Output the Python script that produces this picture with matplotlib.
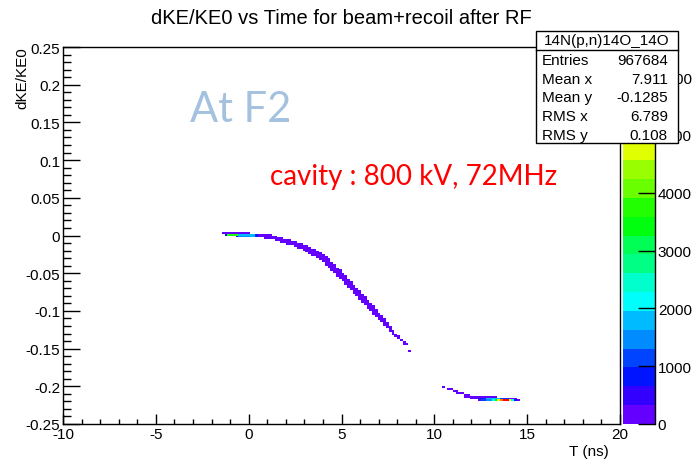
import colorsys
import numpy as np
import matplotlib
matplotlib.use("Agg")
import matplotlib.pyplot as plt
from matplotlib.colors import ListedColormap, BoundaryNorm
from matplotlib.patches import Rectangle

plt.rcParams['font.family'] = ['Liberation Sans', 'DejaVu Sans']
plt.rcParams['axes.unicode_minus'] = False

# TH2 binning: 200 x 200
t_edges = np.linspace(-10, 20, 201)
v_edges = np.linspace(-0.25, 0.25, 201)

# main band (low counts): column centre (ns), band centre, band thickness
curve_t = [0.575, 0.725, 0.875, 1.025, 1.175, 1.325, 1.475, 1.625, 1.775, 1.925,
           2.075, 2.225, 2.375, 2.525, 2.675, 2.825, 2.975, 3.125, 3.275, 3.425,
           3.575, 3.725, 3.875, 4.025, 4.175, 4.325, 4.475, 4.625, 4.775, 4.925,
           5.075, 5.225, 5.375, 5.525, 5.675, 5.825, 5.975, 6.125, 6.275, 6.425,
           6.575, 6.725, 6.875, 7.025, 7.175, 7.325, 7.475, 7.625, 7.775, 7.925,
           8.075, 8.225, 8.375, 8.525, 8.675]
curve_v = [-0.0010, -0.0012, -0.0015, -0.0020, -0.0025, -0.0032, -0.0040, -0.0050, -0.0060, -0.0070,
           -0.0080, -0.0090, -0.0100, -0.0115, -0.0130, -0.0145, -0.0160, -0.0180, -0.0200, -0.0220,
           -0.0235, -0.0255, -0.0275, -0.0300, -0.0330, -0.0370, -0.0410, -0.0445, -0.0480, -0.0520,
           -0.0550, -0.0590, -0.0630, -0.0670, -0.0710, -0.0750, -0.0790, -0.0830, -0.0870, -0.0910,
           -0.0950, -0.0990, -0.1030, -0.1070, -0.1110, -0.1150, -0.1190, -0.1235, -0.1280, -0.1320,
           -0.1350, -0.1390, -0.1425, -0.1450, -0.1530]
curve_w = [0.005, 0.005, 0.005, 0.005, 0.006, 0.006, 0.006, 0.006, 0.006, 0.006,
           0.007, 0.007, 0.007, 0.008, 0.008, 0.008, 0.009, 0.009, 0.009, 0.010,
           0.010, 0.010, 0.011, 0.011, 0.012, 0.012, 0.012, 0.012, 0.012, 0.012,
           0.012, 0.012, 0.012, 0.012, 0.012, 0.012, 0.012, 0.012, 0.012, 0.012,
           0.011, 0.011, 0.011, 0.011, 0.010, 0.010, 0.009, 0.009, 0.008, 0.005,
           0.004, 0.004, 0.004, 0.002, 0.002]
curve_n = 60

# row pieces of the two bunches: t from, t to, dKE/KE0 row, counts
seg_t0 = [-1.45, -1.30, -1.15, -0.60, 0.33, 0.50, -0.75, -0.55, -0.02, 0.34, 0.50,
          10.35, 10.65, 10.95, 11.20, 11.60, 11.60, 11.90, 11.90, 12.37,
          12.37, 12.73, 13.53, 13.98,
          12.37, 12.55, 12.82, 13.09, 13.26, 13.44, 13.53, 13.71, 13.98, 14.11, 14.25, 14.43]
seg_t1 = [0.07, -1.15, -0.60, 0.33, 0.50, 1.25, -0.55, -0.02, 0.34, 0.50, 1.60,
          10.55, 10.95, 11.25, 11.60, 11.90, 11.90, 12.37, 12.37, 13.35,
          12.73, 13.53, 13.98, 14.43,
          12.55, 12.82, 13.09, 13.26, 13.44, 13.53, 13.71, 13.98, 14.11, 14.25, 14.43, 14.61]
seg_v = [0.00375, 0.00125, 0.00125, 0.00125, 0.00125, 0.00125, -0.00125, -0.00125, -0.00125, -0.00125, -0.00125,
         -0.20125, -0.20375, -0.20625, -0.20875, -0.21125, -0.21375, -0.21375, -0.21625, -0.21375,
         -0.21625, -0.21625, -0.21625, -0.21625,
         -0.21875, -0.21875, -0.21875, -0.21875, -0.21875, -0.21875, -0.21875, -0.21875, -0.21875, -0.21875, -0.21875, -0.21875]
seg_n = [60, 800, 3700, 1900, 900, 60, 800, 1400, 1900, 900, 60,
         60, 60, 60, 60, 60, 60, 60, 60, 60,
         800, 1900, 1100, 150,
         60, 1000, 1400, 2100, 3400, 4700, 5600, 6400, 4700, 2200, 900, 60]

z_max = 6520
n_cont = 20
z_ticks = [0, 1000, 2000, 3000, 4000, 5000, 6000]
y_major = [-0.25, -0.2, -0.15, -0.1, -0.05, 0.0, 0.05, 0.1, 0.15, 0.2, 0.25]

stats_title = "14N(p,n)14O_14O"
stats_names = ["Entries", "Mean x", "Mean y", "RMS x", "RMS y"]
stats_vals = ["967684", "7.911", "-0.1285", "6.789", "0.108"]

# ---- fill histogram
tc = 0.5 * (t_edges[:-1] + t_edges[1:])
vc = 0.5 * (v_edges[:-1] + v_edges[1:])
H = np.zeros((len(tc), len(vc)))

for t, v, w in zip(curve_t, curve_v, curve_w):
    ix = np.searchsorted(t_edges, t) - 1
    rows = np.where((vc >= v - w / 2) & (vc <= v + w / 2))[0]
    if len(rows) == 0:
        rows = [np.searchsorted(v_edges, v) - 1]
    H[ix, rows] = np.maximum(H[ix, rows], curve_n)

for t0, t1, v, n in zip(seg_t0, seg_t1, seg_v, seg_n):
    cols = np.where((tc >= t0) & (tc < t1))[0]
    if len(cols) == 0:
        cols = [np.searchsorted(t_edges, 0.5 * (t0 + t1)) - 1]
    iy = np.searchsorted(v_edges, v) - 1
    H[cols, iy] = n

# ROOT "pretty" palette, 20 contours
pal = []
for k in range(n_cont):
    idx = int((k + 0.99) * 50 / n_cont)
    hue = max(280 - (idx + 1) * 5.6, 0)
    pal.append(colorsys.hls_to_rgb(hue / 360.0, 0.5, 1.0))
cmap = ListedColormap(pal)
levels = np.linspace(0, z_max, n_cont + 1)
norm = BoundaryNorm(levels, n_cont)

W, Hpx = 698, 464
fig = plt.figure(figsize=(W / 100, Hpx / 100), dpi=100)
ax = fig.add_axes([63 / W, 1 - 425 / Hpx, (620 - 63) / W, (425 - 48) / Hpx])
mesh = ax.pcolormesh(t_edges, v_edges, np.ma.masked_equal(H, 0).T, cmap=cmap, norm=norm)

ax.set_xlim(-10, 20)
ax.set_ylim(-0.25, 0.25)
ax.set_xticks(np.arange(-10, 21, 5))
ax.set_xticks(np.arange(-10, 21, 1), minor=True)
ax.set_yticks(y_major)
ax.set_yticks(np.round(np.arange(-0.25, 0.251, 0.01), 2), minor=True)
ax.set_yticklabels(["%g" % y for y in y_major])
ax.tick_params(axis='x', which='major', direction='in', length=7, width=1, pad=2, labelsize=11)
ax.tick_params(axis='x', which='minor', direction='in', length=3.3, width=1)
ax.tick_params(axis='y', which='major', direction='in', length=12, width=1, pad=2, labelsize=11)
ax.tick_params(axis='y', which='minor', direction='in', length=6, width=1)
for s in ax.spines.values():
    s.set_linewidth(1)

# palette axis
cax = fig.add_axes([623 / W, 1 - 425 / Hpx, 32 / W, (425 - 48) / Hpx])
cb = fig.colorbar(mesh, cax=cax, boundaries=levels, ticks=z_ticks)
cb.outline.set_visible(False)
cax.set_ylim(0, z_max)
cax.yaxis.set_ticks_position('right')
cax.set_yticklabels([str(z) for z in z_ticks])
cax.tick_params(axis='y', which='major', direction='in', length=12, width=1, pad=2, labelsize=11)
cax.minorticks_off()
cax.plot([1, 1], [0, 1], transform=cax.transAxes, color='black', lw=1, clip_on=False)

# titles
fig.text(341 / W, 1 - 18 / Hpx, "dKE/KE0 vs Time for beam+recoil after RF",
         ha='center', va='center', fontsize=14.5)
fig.text(22 / W, 1 - 47 / Hpx, "dKE/KE0", rotation=90, ha='center', va='top', fontsize=11)
fig.text(609 / W, 1 - 452 / Hpx, "T (ns)", ha='right', va='center', fontsize=11)

# stats box
bx0, by0, bx1, by1 = 536, 32, 678, 144
fig.patches.append(Rectangle((bx0 / W, 1 - by1 / Hpx), (bx1 - bx0) / W, (by1 - by0) / Hpx,
                             transform=fig.transFigure, facecolor='white', edgecolor='black',
                             lw=1, zorder=5))
fig.lines.append(plt.Line2D([bx0 / W, bx1 / W], [1 - 51 / Hpx, 1 - 51 / Hpx],
                            transform=fig.transFigure, color='black', lw=1, zorder=6))
fig.text((bx0 + bx1) / 2 / W, 1 - 41.5 / Hpx, stats_title, ha='center', va='center',
         fontsize=11, zorder=7)
for i, (nm, val) in enumerate(zip(stats_names, stats_vals)):
    y = 1 - (61 + i * 18.7) / Hpx
    fig.text(542 / W, y, nm, ha='left', va='center', fontsize=11, zorder=7)
    fig.text(668 / W, y, val, ha='right', va='center', fontsize=11, zorder=7)

# slide annotations
fig.text(190 / W, 1 - 122 / Hpx, "At F2", ha='left', va='baseline', fontsize=30,
         color='#a4c2df', family=['Lato', 'DejaVu Sans'])
fig.text(270 / W, 1 - 185 / Hpx, "cavity : 800 kV, 72MHz", ha='left', va='baseline',
         fontsize=20, color='#ff0000', family=['Lato', 'DejaVu Sans'])

fig.savefig("out.png", dpi=100)
